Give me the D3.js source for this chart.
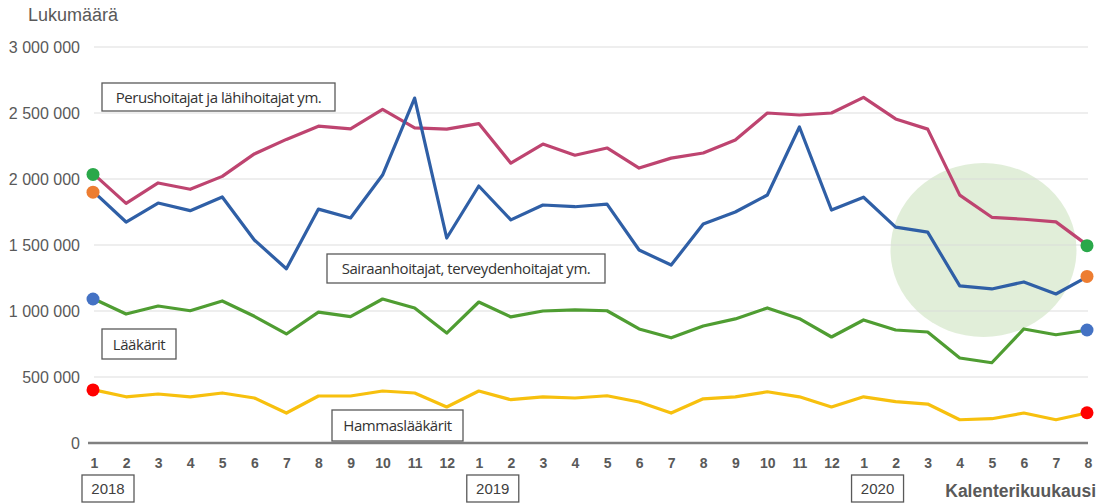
<!DOCTYPE html>
<html>
<head>
<meta charset="utf-8">
<script src="https://cdn.jsdelivr.net/npm/d3@7"></script>
<style>
  body { margin: 0; background: #fff; }
  svg { display: block; }
</style>
</head>
<body>
<div id="chartplace"></div>
<script>
// kuukaudet 1/2018 - 8/2020
var monthLabels = ["1","2","3","4","5","6","7","8","9","10","11","12",
                   "1","2","3","4","5","6","7","8","9","10","11","12",
                   "1","2","3","4","5","6","7","8"];
var years = [{label:"2018", idx:0}, {label:"2019", idx:12}, {label:"2020", idx:24}];
var yTicks = [0, 500000, 1000000, 1500000, 2000000, 2500000, 3000000];

var perushoitajat = [2035000,1815000,1970000,1922000,2020000,2190000,2300000,2400000,2380000,2528000,2388000,2378000,
                     2420000,2120000,2265000,2180000,2235000,2083000,2158000,2197000,2295000,2500000,2485000,2500000,
                     2618000,2455000,2378000,1878000,1710000,1695000,1675000,1495000];
var sairaanhoitajat = [1900000,1674000,1818000,1760000,1864000,1538000,1320000,1772000,1705000,2030000,2613000,1553000,
                       1947000,1690000,1803000,1790000,1810000,1462000,1348000,1659000,1750000,1879000,2394000,1765000,
                       1862000,1636000,1598000,1190000,1167000,1220000,1129000,1262000];
var laakarit = [1091000,977000,1038000,1002000,1076000,960000,826000,992000,957000,1091000,1023000,833000,
                1068000,955000,1000000,1008000,1002000,864000,797000,886000,940000,1023000,942000,803000,
                932000,856000,841000,644000,608000,864000,820000,856000];
var hammaslaakarit = [402000,350000,371000,350000,379000,341000,227000,356000,356000,394000,379000,273000,
                      394000,328000,350000,341000,358000,311000,227000,335000,350000,388000,350000,273000,
                      350000,314000,295000,176000,184000,227000,176000,229000];

var series = [
  {name:"Perushoitajat ja lähihoitajat ym.", values:perushoitajat, color:"#be4470", dot:"#2aa84a", box:[102,83,233,28]},
  {name:"Sairaanhoitajat, terveydenhoitajat ym.", values:sairaanhoitajat, color:"#2f5fa6", dot:"#ed7d31", box:[327,254,278,29]},
  {name:"Lääkärit", values:laakarit, color:"#4f9d32", dot:"#4472c4", box:[102,329,74,30]},
  {name:"Hammaslääkärit", values:hammaslaakarit, color:"#f7c00e", dot:"#ff0000", box:[332,410,131,31]}
];

var width = 1109, height = 503;
var svg = d3.select("#chartplace").append("svg")
  .attr("width", width).attr("height", height);

var x = d3.scaleLinear().domain([0, monthLabels.length-1]).range([94, 1088]);
var y = d3.scaleLinear().domain([0, 3000000]).range([443, 47]);

// korostusympyrä
svg.append("ellipse")
  .attr("cx", 983.5).attr("cy", 250).attr("rx", 93).attr("ry", 87)
  .attr("fill", "#dcebd2").attr("opacity", 0.85);

// vaakaviivat
svg.append("g").selectAll("line")
  .data(yTicks.filter(function(d){ return d > 0; }))
  .enter().append("line")
  .attr("x1", 94).attr("x2", 1088)
  .attr("y1", function(d){ return y(d); }).attr("y2", function(d){ return y(d); })
  .attr("stroke", "#d9d9d9").attr("stroke-width", 1)
  .attr("stroke-opacity", 0.9);

// y-akseli
var yAxis = svg.append("g")
  .attr("transform", "translate(80,0)")
  .call(d3.axisLeft(y).tickValues(yTicks).tickSize(0).tickPadding(0)
    .tickFormat(function(d){ return d3.format(",")(d).replace(/,/g, " "); }));
yAxis.select(".domain").remove();
yAxis.selectAll("text")
  .attr("font-family", "'Liberation Sans', Arial, sans-serif")
  .attr("font-size", 16).attr("fill", "#595959");

// x-akseli
var xAxis = svg.append("g")
  .attr("transform", "translate(0,443)")
  .call(d3.axisBottom(x).tickValues(d3.range(monthLabels.length)).tickSize(0).tickPadding(15)
    .tickFormat(function(d){ return monthLabels[d]; }));
xAxis.select(".domain")
  .attr("d", "M88,0H1088")
  .attr("stroke", "#808080").attr("stroke-width", 2.5);
xAxis.selectAll("text")
  .attr("font-family", "'Liberation Sans', Arial, sans-serif")
  .attr("font-size", 14).attr("font-weight", "bold").attr("fill", "#595959");

// vuosilaatikot
var yg = svg.append("g").selectAll("g").data(years).enter().append("g")
  .attr("transform", function(d){ return "translate(" + (x(d.idx) + 14) + ",0)"; });
yg.append("rect")
  .attr("x", -26).attr("y", 475).attr("width", 52).attr("height", 27)
  .attr("fill", "#fff").attr("stroke", "#595959").attr("stroke-width", 1.3);
yg.append("text")
  .attr("y", 494).attr("text-anchor", "middle")
  .attr("font-family", "'Liberation Sans Narrow', 'Liberation Sans', Arial, sans-serif")
  .attr("font-size", 15).attr("fill", "#404040")
  .text(function(d){ return d.label; });

// viivat
var line = d3.line()
  .x(function(d, i){ return x(i); })
  .y(function(d){ return y(d); });

svg.append("g").selectAll("path")
  .data(series).enter().append("path")
  .attr("d", function(d){ return line(d.values); })
  .attr("fill", "none")
  .attr("stroke", function(d){ return d.color; })
  .attr("stroke-width", 3.2)
  .attr("stroke-linejoin", "round");

// päätepisteet
series.forEach(function(s){
  var n = s.values.length - 1;
  svg.append("g").selectAll("circle")
    .data([0, n]).enter().append("circle")
    .attr("cx", function(i){ return x(i) - 1; })
    .attr("cy", function(i){ return y(s.values[i]); })
    .attr("r", 6.5)
    .attr("fill", s.dot);
});

// sarjojen nimilaatikot
var lg = svg.append("g").selectAll("g").data(series).enter().append("g");
lg.append("rect")
  .attr("x", function(d){ return d.box[0]; })
  .attr("y", function(d){ return d.box[1]; })
  .attr("width", function(d){ return d.box[2]; })
  .attr("height", function(d){ return d.box[3]; })
  .attr("fill", "#fff").attr("stroke", "#595959").attr("stroke-width", 1.3);
lg.append("text")
  .attr("x", function(d){ return d.box[0] + d.box[2] / 2; })
  .attr("y", function(d){ return d.box[1] + d.box[3] / 2 + 5.5; })
  .attr("text-anchor", "middle")
  .attr("font-family", "'Open Sans', 'Noto Sans', sans-serif")
  .attr("font-size", 15).attr("letter-spacing", -0.45).attr("fill", "#333")
  .text(function(d){ return d.name; });

// otsikot
svg.append("text")
  .attr("x", 28).attr("y", 21)
  .attr("font-family", "'Liberation Sans', Arial, sans-serif")
  .attr("font-size", 18).attr("fill", "#595959")
  .text("Lukumäärä");
svg.append("text")
  .attr("x", 1096).attr("y", 497).attr("text-anchor", "end")
  .attr("font-family", "'Liberation Sans', Arial, sans-serif")
  .attr("font-size", 17.5).attr("font-weight", "bold").attr("fill", "#595959")
  .text("Kalenterikuukausi");
</script>
</body>
</html>
